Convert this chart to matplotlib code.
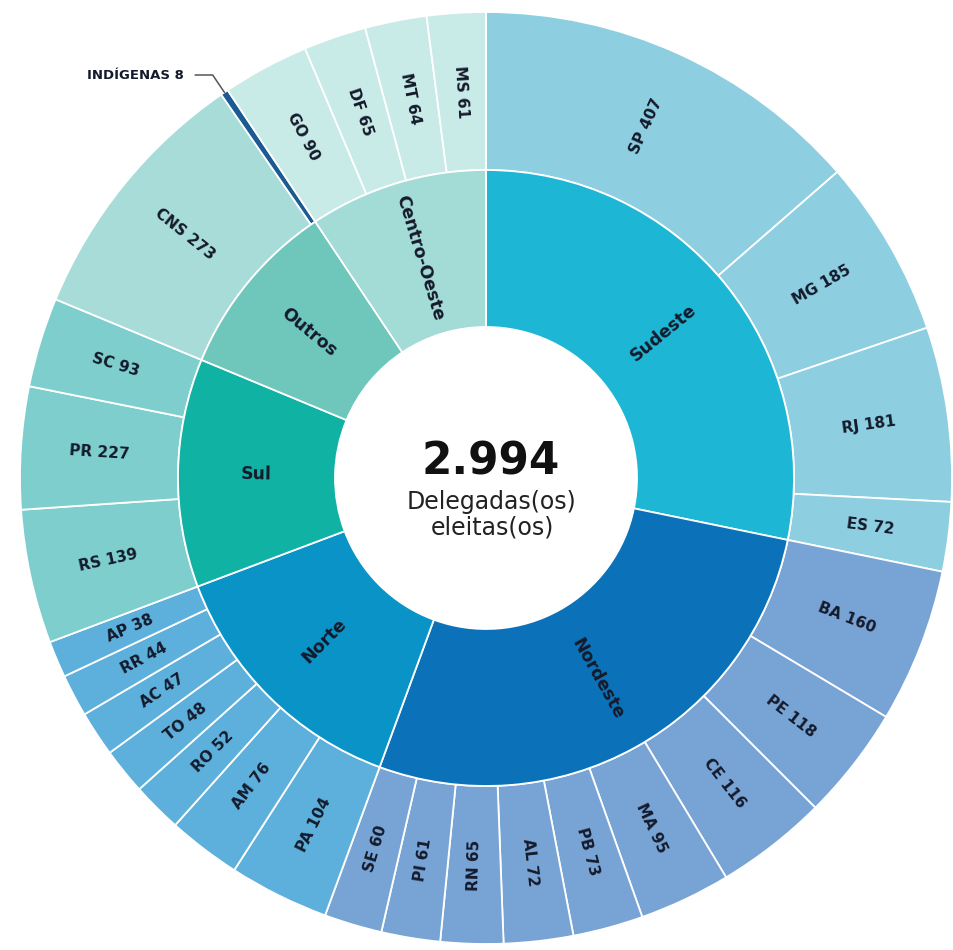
import matplotlib
matplotlib.use('Agg')
import matplotlib.pyplot as plt
import numpy as np

# --- data ---
regions = ['Sudeste', 'Nordeste', 'Norte', 'Sul', 'Outros', 'Centro-Oeste']

sudeste_ufs = ['SP', 'MG', 'RJ', 'ES']
sudeste_vals = [407, 185, 181, 72]

nordeste_ufs = ['BA', 'PE', 'CE', 'MA', 'PB', 'AL', 'RN', 'PI', 'SE']
nordeste_vals = [160, 118, 116, 95, 73, 72, 65, 61, 60]

norte_ufs = ['PA', 'AM', 'RO', 'TO', 'AC', 'RR', 'AP']
norte_vals = [104, 76, 52, 48, 47, 44, 38]

sul_ufs = ['RS', 'PR', 'SC']
sul_vals = [139, 127, 93]      # PR arc (and the 2.994 total) match 127 ...
sul_printed = [139, 227, 93]   # ... but the chart prints "PR 227"

outros_ufs = ['CNS', 'INDÍGENAS']
outros_vals = [273, 8]

co_ufs = ['GO', 'DF', 'MT', 'MS']
co_vals = [90, 65, 64, 61]

inner_colors = ['#1db6d4', '#0b72b9', '#0a93c6', '#10b2a3', '#6fc6bb', '#a3dbd6']
outer_colors = ['#8dcfe1', '#78a4d5', '#5eb0dc', '#7dcecd', '#a7dcd8', '#c9ebe7']
indigenas_color = '#1c5a93'

# --- build rings ---
children = [
    (sudeste_ufs, sudeste_vals, sudeste_vals),
    (nordeste_ufs, nordeste_vals, nordeste_vals),
    (norte_ufs, norte_vals, norte_vals),
    (sul_ufs, sul_vals, sul_printed),
    (outros_ufs, outros_vals, outros_vals),
    (co_ufs, co_vals, co_vals),
]

inner_vals = [sum(v) for _, v, _ in children]
outer_vals, outer_labels, outer_cols = [], [], []
for (ufs, vals, printed), col in zip(children, outer_colors):
    for uf, v, p in zip(ufs, vals, printed):
        outer_vals.append(v)
        outer_labels.append(f'{uf} {p}')
        outer_cols.append(indigenas_color if uf == 'INDÍGENAS' else col)

total = sum(inner_vals)

# --- layout (pixels of the 954x950 picture) ---
W, H = 954, 950
CX, CY, R = 486, 478, 466
r_outer, r_mid, r_hole = 1.0, 308 / R, 151 / R


def px(x, y):
    return (x - CX) / R, (CY - y) / R


fig = plt.figure(figsize=(W / 100, H / 100), dpi=100)
ax = fig.add_axes([0, 0, 1, 1])

edge = dict(edgecolor='white', linewidth=1.3)
outer_w, _ = ax.pie(outer_vals, radius=r_outer, colors=outer_cols, startangle=90,
                    counterclock=False, wedgeprops=dict(width=r_outer - r_mid, **edge))
inner_w, _ = ax.pie(inner_vals, radius=r_mid, colors=inner_colors, startangle=90,
                    counterclock=False, wedgeprops=dict(width=r_mid - r_hole, **edge))

ax.set_xlim(px(0, 0)[0], px(W, 0)[0])
ax.set_ylim(px(0, H)[1], px(0, 0)[1])
ax.set_aspect('equal')
ax.axis('off')

txt_color = '#141a2b'


def radial_label(w, text, r, fs):
    mid = (w.theta1 + w.theta2) / 2
    t = np.deg2rad(mid)
    rot = mid % 360
    if rot > 90 and rot <= 270:
        rot -= 180
    elif rot > 270:
        rot -= 360
    ax.text(r * np.cos(t), r * np.sin(t), text, rotation=rot, rotation_mode='anchor',
            ha='center', va='center', fontsize=fs, fontweight='bold', color=txt_color)


for w, lab in zip(outer_w, outer_labels):
    if lab.startswith('INDÍGENAS'):
        continue
    radial_label(w, lab, (r_outer + r_mid) / 2, 11)

for w, lab in zip(inner_w, regions):
    radial_label(w, lab, (r_mid + r_hole) / 2, 12.5)

# INDÍGENAS callout
ind = outer_w[outer_labels.index('INDÍGENAS 8')]
mid = np.deg2rad((ind.theta1 + ind.theta2) / 2)
ax.annotate('INDÍGENAS 8', xy=(r_outer * np.cos(mid), r_outer * np.sin(mid)),
            xytext=px(184, 75), ha='right', va='center', fontsize=9.5,
            fontweight='bold', color=txt_color,
            arrowprops=dict(arrowstyle='-', color='#555555', lw=1.1,
                            connectionstyle=f'angle,angleA=0,angleB={np.rad2deg(mid):.1f},rad=0',
                            relpos=(1, 0.5), shrinkA=6, shrinkB=0))

# centre
ax.text(*px(491, 462), f'{total:,}'.replace(',', '.'), ha='center', va='center',
        fontsize=31.5, fontweight='bold', color='#111111')
ax.text(*px(492, 502), 'Delegadas(os)', ha='center', va='center', fontsize=17, color='#222222')
ax.text(*px(492, 527), 'eleitas(os)', ha='center', va='center', fontsize=17, color='#222222')

fig.savefig('out.png', dpi=100, facecolor='white')
